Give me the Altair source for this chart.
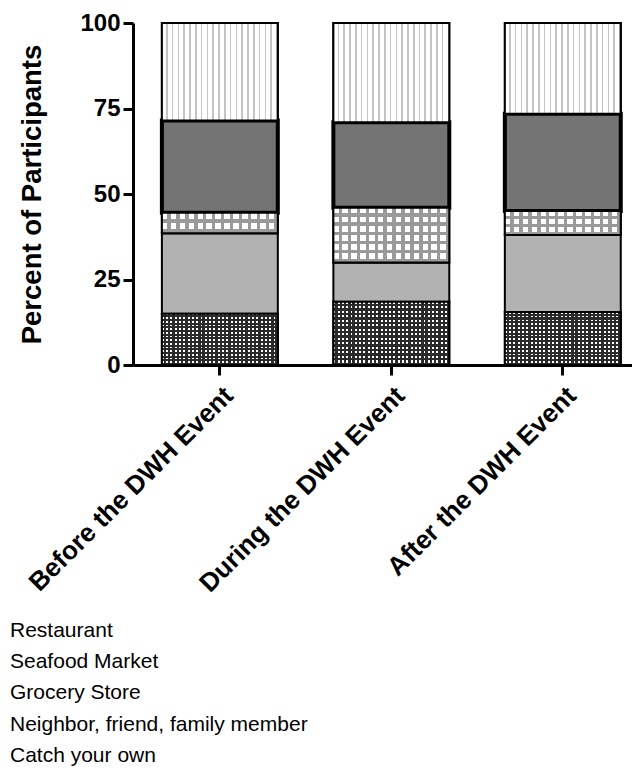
import altair as alt
import pandas as pd

# ---- data ----
periods = ["Before the DWH Event", "During the DWH Event", "After the DWH Event"]
sources = ["Restaurant", "Seafood Market", "Grocery Store",
           "Neighbor, friend, family member", "Catch your own"]
restaurant = [15.0, 18.5, 15.5]
seafood_market = [23.5, 11.5, 22.5]
grocery_store = [6.0, 16.0, 7.0]
neighbor = [27.0, 25.0, 28.5]
catch_own = [28.5, 29.0, 26.5]
y_ticks = [0, 25, 50, 75, 100]

series = [restaurant, seafood_market, grocery_store, neighbor, catch_own]
rows = []
for si, (src, vals) in enumerate(zip(sources, series)):
    for p, v in zip(periods, vals):
        rows.append({"period": p, "source": src, "idx": si, "value": v})
df = pd.DataFrame(rows)

# ---- styles ----
PLOT_H = 342
fills = ["#555555", "#b2b2b2", "#cacaca", "#747474", "#ffffff"]


def stripes(n, c1, c2, frac, horizontal):
    st = []
    for i in range(n):
        a = i / n
        b = (i + frac) / n
        c = (i + 1) / n
        st += [alt.GradientStop(color=c1, offset=a),
               alt.GradientStop(color=c1, offset=b),
               alt.GradientStop(color=c2, offset=b),
               alt.GradientStop(color=c2, offset=c)]
    if horizontal:
        return alt.LinearGradient(gradient="linear", stops=st, x1=0, x2=0, y1=0, y2=1)
    return alt.LinearGradient(gradient="linear", stops=st, x1=0, x2=1, y1=0, y2=0)


vline_fill = stripes(20, "#ffffff", "#c4c4c4", 0.72, False)
check_rows = stripes(14, "#ffffff", "#2a2a2a", 0.45, True)
check_cols = stripes(27, "rgba(0,0,0,0)", "#2a2a2a", 0.45, False)
hatch_cols = stripes(13, "rgba(0,0,0,0)", "#9a9a9a", 0.62, False)

FONT = "Liberation Sans"

base = alt.Chart(df).transform_stack(
    stack="value", groupby=["period"], as_=["y0", "y1"],
    sort=[alt.SortField("idx", order="ascending")],
)

x_enc = alt.X(
    "period:N", sort=periods,
    scale=alt.Scale(paddingInner=0.324, paddingOuter=0.117, align=0.72),
    axis=alt.Axis(title=None, labelAngle=-45, labelFontSize=26, labelFont=FONT,
                  labelFontWeight="bold", labelColor="black", tickSize=10,
                  tickWidth=3, tickColor="black", domainWidth=3,
                  domainColor="black", labelPadding=7, labelLimit=500),
)
y_enc = alt.Y(
    "y0:Q",
    scale=alt.Scale(domain=[0, 100], nice=False),
    axis=alt.Axis(values=y_ticks, title="Percent of Participants",
                  titleFontSize=27.5, titleFont=FONT, titleFontWeight="bold",
                  titleColor="black", titlePadding=33,
                  labelFontSize=24, labelFont=FONT, labelFontWeight="bold",
                  labelColor="black", tickSize=10, tickWidth=3,
                  tickColor="black", domainWidth=3, domainColor="black",
                  labelPadding=3, grid=False),
)

bars = base.mark_bar(stroke="black").encode(
    x=x_enc,
    y=y_enc,
    y2="y1:Q",
    color=alt.Color(
        "source:N", sort=sources,
        scale=alt.Scale(domain=sources, range=fills),
        legend=alt.Legend(
            orient="none", legendX=-151, legendY=597, direction="vertical",
            title=None, symbolType="square", symbolSize=400,
            symbolStrokeColor="black", symbolStrokeWidth=2,
            labelFontSize=21, labelFont=FONT, labelColor="black",
            labelOffset=6, rowPadding=3.2, padding=0, labelLimit=500,
        ),
    ),
    strokeWidth=alt.condition(
        alt.datum.source == "Neighbor, friend, family member",
        alt.value(4), alt.value(2)),
)

layers = [bars]

# vertical-line pattern for the top segment
top_seg = base.transform_filter(alt.datum.source == "Catch your own")
layers.append(top_seg.mark_bar(fill=vline_fill, stroke="black", strokeWidth=2).encode(
    x=x_enc, y=y_enc, y2="y1:Q"))

# dotted checker pattern for the bottom segment
bottom_seg = base.transform_filter(alt.datum.source == "Restaurant")
layers.append(bottom_seg.mark_bar(fill=check_rows, strokeWidth=0).encode(
    x=x_enc, y=y_enc, y2="y1:Q"))
layers.append(bottom_seg.mark_bar(fill=check_cols, stroke="black", strokeWidth=2).encode(
    x=x_enc, y=y_enc, y2="y1:Q"))

# cross-hatch pattern for the Grocery Store segment (rows sized per bar)
for p, v in zip(periods, grocery_store):
    n_rows = max(2, round(v * PLOT_H / 100 / 9))
    seg = base.transform_filter(
        (alt.datum.source == "Grocery Store") & (alt.datum.period == p))
    layers.append(seg.mark_bar(
        fill=stripes(n_rows, "#ffffff", "#9a9a9a", 0.62, True), strokeWidth=0
    ).encode(x=x_enc, y=y_enc, y2="y1:Q"))
    layers.append(seg.mark_bar(fill=hatch_cols, stroke="black", strokeWidth=2).encode(
        x=x_enc, y=y_enc, y2="y1:Q"))

chart = alt.layer(*layers).properties(
    width=499, height=PLOT_H,
    padding={"left": 125, "top": 15, "right": 0, "bottom": 402},
    autosize=alt.AutoSizeParams(type="none"),
).configure_view(stroke=None)

chart.save("out.html", embed_options={"renderer": "svg", "actions": False})
